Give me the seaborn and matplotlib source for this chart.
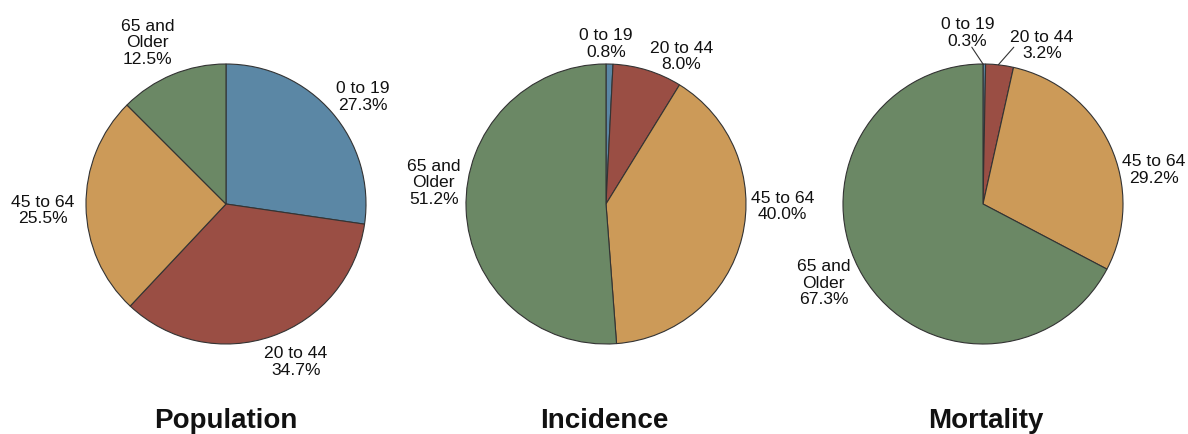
import matplotlib
matplotlib.use("Agg")
import matplotlib.pyplot as plt
import seaborn as sns
import numpy as np

sns.set_theme(style="white")
plt.rcParams['font.family'] = ['Liberation Sans', 'DejaVu Sans']

groups = ['0 to 19', '20 to 44', '45 to 64', '65 and\nOlder']
titles = ['Population', 'Incidence', 'Mortality']
population = [27.3, 34.7, 25.5, 12.5]
incidence = [0.8, 8.0, 40.0, 51.2]
mortality = [0.3, 3.2, 29.2, 67.3]
series = [population, incidence, mortality]

colors = sns.color_palette(['#5b87a5', '#9a4e44', '#cc9a58', '#6b8865'])

# label positions relative to pie centre (radius units)
label_pos = [
    [(0.98, 0.77), (0.50, -1.12), (-1.31, -0.04), (-0.56, 1.16)],
    [(0.0, 1.15), (0.54, 1.06), (1.26, -0.01), (-1.23, 0.16)],
    [(-0.11, 1.23), (0.42, 1.14), (1.22, 0.25), (-1.14, -0.56)],
]
centers = [226, 606, 983]
title_x = [226, 604, 986]
W, H = 1188, 435
r = 140
cy = 205

fig = plt.figure(figsize=(W / 100, H / 100), dpi=100)

for i, vals in enumerate(series):
    ax = fig.add_axes([(centers[i] - r) / W, (H - cy - r) / H, 2 * r / W, 2 * r / H])
    ax.pie(vals, colors=colors, startangle=90, counterclock=False,
           wedgeprops=dict(edgecolor='#333333', linewidth=0.8))
    ax.set_xlim(-1, 1)
    ax.set_ylim(-1, 1)
    ax.set_aspect('auto')
    for j, v in enumerate(vals):
        x, y = label_pos[i][j]
        ax.text(x, y, f'{groups[j]}\n{v:.1f}%', ha='center', va='center',
                fontsize=12.6, color='#111111', linespacing=1.12, clip_on=False)
    if i == 2:
        # leader lines for the tiny slices
        ax.plot([-0.08, 0.0], [1.12, 1.0], color='#333333', lw=0.8, clip_on=False)
        ax.plot([0.22, 0.11], [1.12, 0.995], color='#333333', lw=0.8, clip_on=False)
    fig.text(title_x[i] / W, 1 - 421 / H, titles[i], ha='center', va='center',
             fontsize=20, fontweight='bold', color='#111111')

fig.savefig('out.png', dpi=100, facecolor='white')
